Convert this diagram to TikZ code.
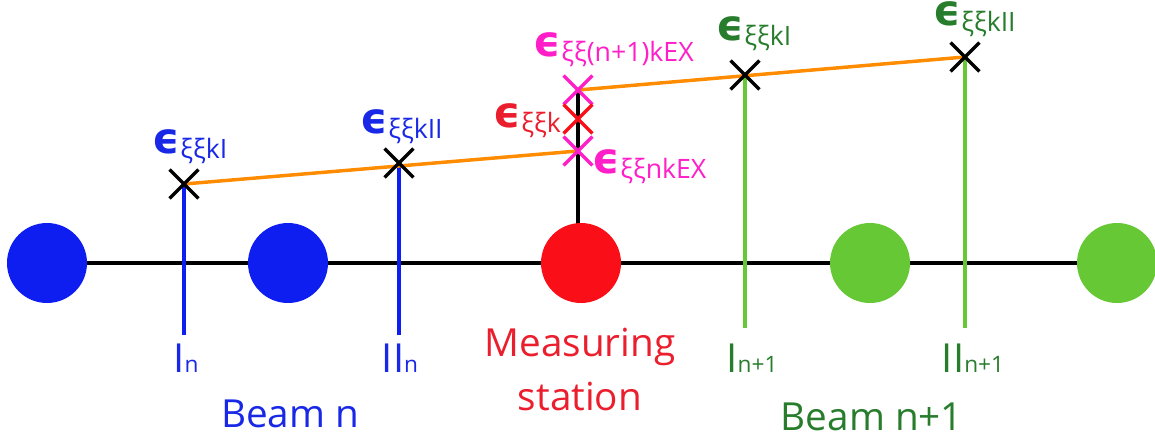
\documentclass[tikz,border=0pt]{standalone}
\usepackage{fontspec}
\setmainfont{Open Sans}
\newfontfamily\epsfont{DejaVu Sans}[BoldFont={DejaVu Sans Bold}]
\usetikzlibrary{shapes.misc,backgrounds}
\definecolor{cblue}{RGB}{15,30,240}
\definecolor{tblue}{RGB}{25,40,230}
\definecolor{cred}{RGB}{250,15,25}
\definecolor{tred}{RGB}{235,30,45}
\definecolor{cgreen}{RGB}{102,200,52}
\definecolor{tgreen}{RGB}{40,125,45}
\definecolor{cmag}{RGB}{255,30,200}
\definecolor{corange}{RGB}{255,140,0}
\newcommand\epsl[1]{\smash{\epsfont\bfseries\fontsize{32}{34}\selectfont ϵ}\kern0.5pt{\fontsize{20}{22}\selectfont\raisebox{-4pt}{#1}}}
\newcommand\lbl[2]{{\fontsize{30}{32}\selectfont #1}{\fontsize{17}{20}\selectfont #2}}
\tikzset{
  ball/.style={circle,fill=#1,minimum size=60pt,inner sep=0},
  mark x/.style={cross out,draw=#1,minimum size=19pt,inner sep=0,line width=2.6pt},
  epsl/.style={anchor=base west,inner sep=0,text=#1},
  botl/.style={anchor=base,inner sep=0,text=#1},
  vline/.style={draw=#1,line width=2.6pt},
}
\begin{document}
\begin{tikzpicture}[x=0.75pt,y=-0.75pt]
\useasboundingbox (0,0) rectangle (1155,439);
% balls
\node[ball=cblue] (b1) at (47,263) {};
\node[ball=cblue] (b2) at (288,263) {};
\node[ball=cred] (r) at (581,263) {};
\node[ball=cgreen] (g1) at (870,263) {};
\node[ball=cgreen] (g2) at (1117,263) {};
% crosses
\node[mark x=black] (x1) at (184,184) {};
\node[mark x=black] (x2) at (399,163) {};
\node[mark x=cmag] (m1) at (578,90) {};
\node[mark x=cred] (mk) at (578,119) {};
\node[mark x=cmag] (m2) at (578,151) {};
\node[mark x=black] (x3) at (745,75) {};
\node[mark x=black] (x4) at (965,57) {};
% bottom ends
\coordinate (e1) at (184,335);
\coordinate (e2) at (399,335);
\coordinate (e3) at (745,328);
\coordinate (e4) at (965,328);
\coordinate (rt) at (578,228);
\begin{scope}[on background layer]
\draw[line width=3pt] (b1.center) -- (g2.center);
\draw[vline=cblue] (e1) -- (x1.center);
\draw[vline=cblue] (e2) -- (x2.center);
\draw[vline=cgreen] (e3) -- (x3.center);
\draw[vline=cgreen] (e4) -- (x4.center);
\draw[vline=black] (rt) -- (m1.center);
\draw[vline=corange] (x1.center) -- (m2.center);
\draw[vline=corange] (m1.center) -- (x4.center);
\end{scope}
% epsilon labels
\node[epsl=tblue] (l1) at (152,153) {\epsl{ξξkI}};
\node[epsl=tblue] (l2) at (360,133) {\epsl{ξξkII}};
\node[epsl=cmag] (l3) at (533,56) {\epsl{ξξ(n+1)kEX}};
\node[epsl=tred] (l4) at (493,127) {\epsl{ξξk}};
\node[epsl=cmag] (l5) at (592,173) {\epsl{ξξnkEX}};
\node[epsl=tgreen] (l6) at (716,40) {\epsl{ξξkI}};
\node[epsl=tgreen] (l7) at (933,26) {\epsl{ξξkII}};
% bottom labels
\node[botl=tblue] (t1) at (186,372) {\lbl{I}{n}};
\node[botl=tblue] (t2) at (400,372) {\lbl{II}{n}};
\node[botl=tgreen] (t3) at (752,372) {\lbl{I}{n+1}};
\node[botl=tgreen] (t4) at (973,372) {\lbl{II}{n+1}};
\node[botl=tred,font=\fontsize{29}{31}\selectfont] (ms) at (580,356) {Measuring};
\node[botl=tred,font=\fontsize{29}{31}\selectfont] (st) at (580,410) {station};
\node[botl=tblue,font=\fontsize{29}{31}\selectfont] (bn) at (290,427) {Beam n};
\node[botl=tgreen,font=\fontsize{29}{31}\selectfont] (bn1) at (872,430) {Beam n+1};
\end{tikzpicture}
\end{document}
